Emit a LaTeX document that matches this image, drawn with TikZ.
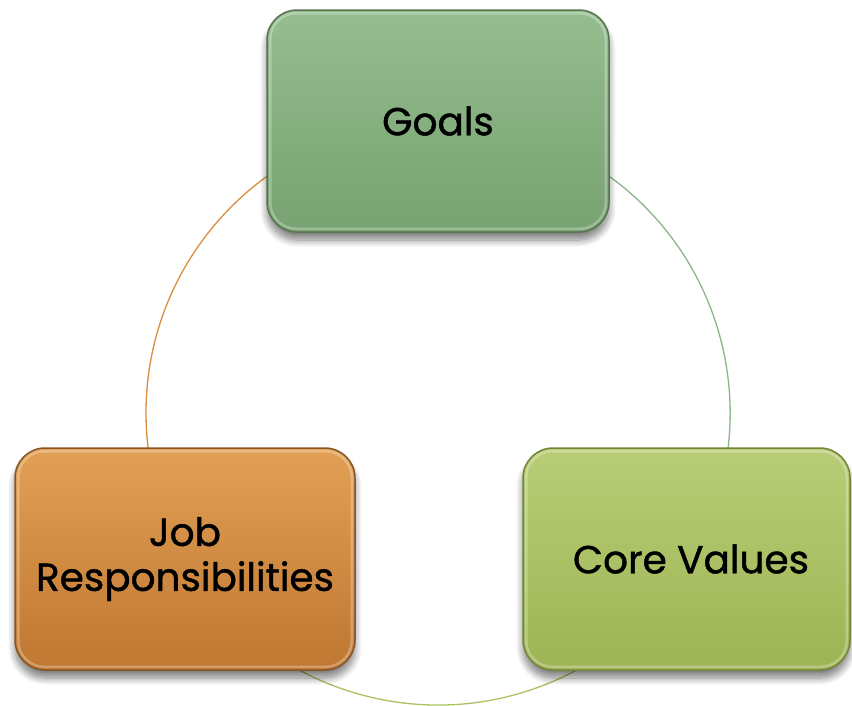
\documentclass[tikz,border=0pt]{standalone}
\usepackage{fontspec}
\setmainfont{Poppins}
\newfontfamily\boxfont{Poppins}[FakeBold=1.2]
\usetikzlibrary{shadows.blur}

\definecolor{goalTop}{HTML}{95BD90}
\definecolor{goalBot}{HTML}{78A271}
\definecolor{goalEdge}{HTML}{56754F}
\definecolor{jobTop}{HTML}{E2A055}
\definecolor{jobBot}{HTML}{BF7732}
\definecolor{jobEdge}{HTML}{875626}
\definecolor{coreTop}{HTML}{B8CD76}
\definecolor{coreBot}{HTML}{9DB454}
\definecolor{coreEdge}{HTML}{738539}
\definecolor{arcOrange}{HTML}{D98E3F}
\definecolor{arcGreen}{HTML}{8DB58A}
\definecolor{arcLime}{HTML}{A9C461}

\tikzset{
  boxtext/.style={align=center, font=\boxfont\fontsize{39}{45}\selectfont, text=black},
  cyclebox/.style={rounded corners=30pt, minimum height=222pt, line width=1.5pt,
    boxtext, inner sep=0pt,
    blur shadow={shadow xshift=0pt, shadow yshift=-8pt, shadow blur radius=7pt,
      shadow blur steps=10, shadow opacity=50}},
  bevel/.style={rounded corners=26pt, line width=2.5pt, draw=white, draw opacity=.28},
  cyclearc/.style={line width=1.3pt}
}

\begin{document}
\begin{tikzpicture}[x=1pt,y=-1pt]
\useasboundingbox (0,0) rectangle (852,705);

% positions on a circle of radius 292 centred at (438,413)
\coordinate (pgoals) at (438,121);
\coordinate (pjob)   at (185,559);
\coordinate (pcore)  at (691,559);

% connecting arcs, drawn first so the boxes cover their ends
\draw[cyclearc, arcOrange] (pgoals) arc[start angle=-90, end angle=-210, radius=292];
\draw[cyclearc, arcLime]   (pjob)   arc[start angle=-210, end angle=-330, radius=292];
\draw[cyclearc, arcGreen]  (pcore)  arc[start angle=-330, end angle=-450, radius=292];

% boxes
\node[cyclebox, minimum width=342pt, draw=goalEdge, top color=goalTop, bottom color=goalBot]
  (goals) at (pgoals) {Goals};
\node[cyclebox, minimum width=340pt, draw=jobEdge, top color=jobTop, bottom color=jobBot]
  (job) at (pjob) {Job\\Responsibilities};
\node[cyclebox, minimum width=327pt, draw=coreEdge, top color=coreTop, bottom color=coreBot]
  (core) at (686.5,559) {};
\node[boxtext] (coretext) at (pcore) {Core Values};

% inner bevel highlights
\foreach \n in {goals,job,core}
  \draw[bevel] ([xshift=4pt,yshift=4pt]\n.south west) rectangle ([xshift=-4pt,yshift=-4pt]\n.north east);
\end{tikzpicture}
\end{document}
